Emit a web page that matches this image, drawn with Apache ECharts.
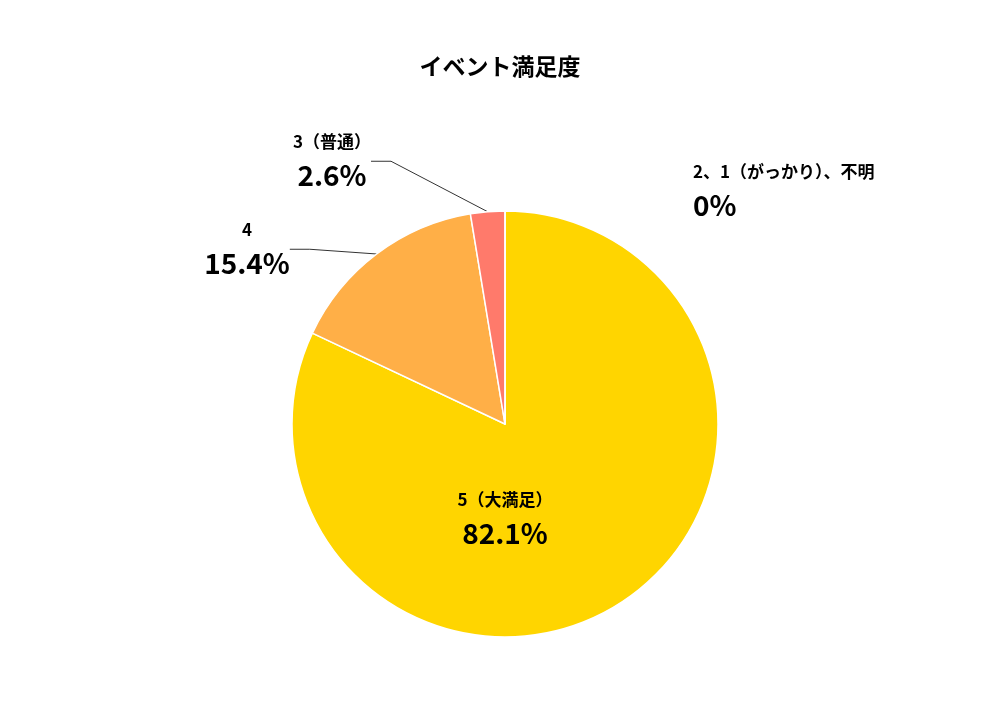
<!DOCTYPE html>
<html><head><meta charset="utf-8">
<script src="https://cdn.jsdelivr.net/npm/echarts@6/dist/echarts.min.js"></script>
<style>html,body{margin:0;padding:0;background:#fff}#c{width:1000px;height:726px}</style>
</head><body><div id="c"></div>
<script>
const title = 'イベント満足度';
const categories = ['5（大満足）', '4', '3（普通）', '2、1（がっかり）、不明'];
const values = [82.1, 15.4, 2.6, 0];
const colors = ['#FFD500', '#FFAF47', '#FF7A6B', '#E05050'];
const labelPos = [
  {x: 505, y: 518, align: 'center'},
  {x: 247, y: 248, align: 'center'},
  {x: 332, y: 160, align: 'center'},
  {x: 693, y: 190, align: 'left'}
];
const chart = echarts.init(document.getElementById('c'));
const F = "'Noto Sans CJK JP', 'Noto Sans', sans-serif";
chart.setOption({
  animation: false,
  title: {text: title, left: 'center', top: 50, textStyle: {fontFamily: F, fontSize: 23, fontWeight: 'bold', color: '#000'}},
  series: [{
    type: 'pie', center: [505, 424], radius: 213, startAngle: 90, clockwise: true,
    minAngle: 0, avoidLabelOverlap: false, stillShowZeroSum: true,
    itemStyle: {borderColor: '#fff', borderWidth: 1.5},
    data: categories.map((n, i) => ({
      name: n, value: values[i], itemStyle: {color: colors[i]},
      labelLine: {show: i === 1 || i === 2, length: 20, length2: 20, lineStyle: {color: '#333', width: 1}}
    })),
    label: {
      show: true, fontFamily: F, color: '#000',
      formatter: p => '{n|' + p.name + '}\n{v|' + (p.value === 0 ? '0' : p.value.toFixed(1)) + '%}',
      rich: {
        n: {fontFamily: F, fontSize: 17, fontWeight: 'bold', color: '#000', lineHeight: 30},
        v: {fontFamily: F, fontSize: 28, fontWeight: 'bold', color: '#000', lineHeight: 36}
      }
    },
    labelLine: {show: true},
    labelLayout: function (p) {
      const l = labelPos[p.dataIndex];
      return {x: l.x, y: l.y, align: l.align, verticalAlign: 'middle', hideOverlap: false};
    }
  }]
});
</script></body></html>
